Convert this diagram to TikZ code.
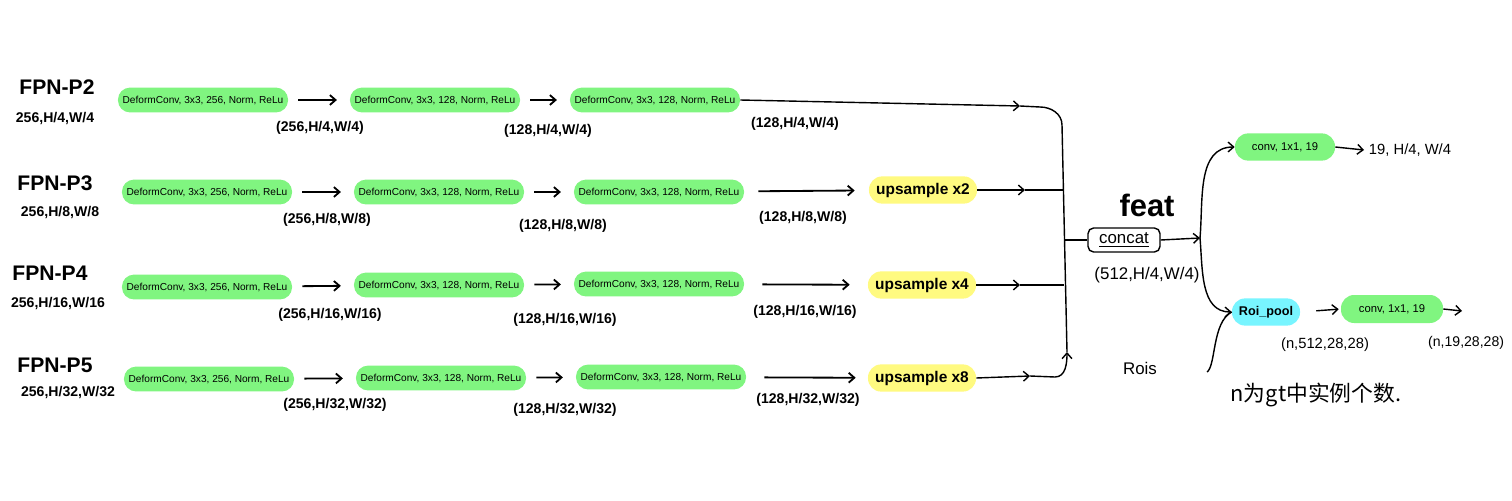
\documentclass[tikz,border=0pt]{standalone}
\usepackage{fontspec}
\setmainfont{Liberation Sans}
\newfontfamily\cjk{Noto Sans CJK SC}
\usetikzlibrary{arrows.meta}
\definecolor{convgreen}{RGB}{128,245,128}
\definecolor{upyellow}{RGB}{255,250,128}
\definecolor{poolcyan}{RGB}{120,245,255}

\begin{document}
\begin{tikzpicture}[x=0.025cm,y=-0.025cm,>={Straight Barb[length=4pt,width=7pt]},
  conv/.style={fill=convgreen,rounded corners=0.3cm,minimum width=4.25cm,minimum height=0.62cm,inner sep=1pt,font=\fontsize{7.2}{8}\selectfont},
  ups/.style={fill=upyellow,rounded corners=0.33cm,minimum width=2.7cm,minimum height=0.68cm,inner sep=1pt,font=\fontsize{11}{13}\selectfont\bfseries},
  head/.style={font=\fontsize{15}{18}\selectfont\bfseries},
  dims/.style={font=\fontsize{10}{12}\selectfont\bfseries},
  shp/.style={font=\fontsize{10.5}{12}\selectfont},
  flow/.style={line width=1pt},
  arr/.style={->,line width=1.3pt,shorten <=0.25cm,shorten >=0.32cm},
]
\fill [white] (0,0) rectangle (1512,500);
\useasboundingbox (0,0) rectangle (1512,500);
% P2
\node [head] (p2) at (57,87) {FPN-P2};
\node [dims] (p2s) at (55,118) {256,H/4,W/4};
\node [conv] (c2a) at (203,100) {DeformConv, 3x3, 256, Norm, ReLu};
\node [conv] (c2b) at (435,100) {DeformConv, 3x3, 128, Norm, ReLu};
\node [conv] (c2c) at (655,100) {DeformConv, 3x3, 128, Norm, ReLu};
\node [dims] (d2a) at (320,128) {(256,H/4,W/4)};
\node [dims] (d2b) at (548,131) {(128,H/4,W/4)};
\node [dims] (d2c) at (795,124) {(128,H/4,W/4)};
% P3
\node [head] (p3) at (55,183) {FPN-P3};
\node [dims] (p3s) at (60,212) {256,H/8,W/8};
\node [conv] (c3a) at (207,192) {DeformConv, 3x3, 256, Norm, ReLu};
\node [conv] (c3b) at (439,192) {DeformConv, 3x3, 128, Norm, ReLu};
\node [conv] (c3c) at (659,192) {DeformConv, 3x3, 128, Norm, ReLu};
\node [ups] (u3) at (923,190) {upsample x2};
\node [dims] (d3a) at (327,220) {(256,H/8,W/8)};
\node [dims] (d3b) at (563,226) {(128,H/8,W/8)};
\node [dims] (d3c) at (803,218) {(128,H/8,W/8)};
% P4
\node [head] (p4) at (50,273) {FPN-P4};
\node [dims] (p4s) at (58,303) {256,H/16,W/16};
\node [conv] (c4a) at (207,287) {DeformConv, 3x3, 256, Norm, ReLu};
\node [conv] (c4b) at (439,285) {DeformConv, 3x3, 128, Norm, ReLu};
\node [conv] (c4c) at (659,284) {DeformConv, 3x3, 128, Norm, ReLu};
\node [ups] (u4) at (922,285) {upsample x4};
\node [dims] (d4a) at (330,315) {(256,H/16,W/16)};
\node [dims] (d4b) at (565,320) {(128,H/16,W/16)};
\node [dims] (d4c) at (805,312) {(128,H/16,W/16)};
% P5
\node [head] (p5) at (55,365) {FPN-P5};
\node [dims] (p5s) at (68,392) {256,H/32,W/32};
\node [conv] (c5a) at (209,379) {DeformConv, 3x3, 256, Norm, ReLu};
\node [conv] (c5b) at (441,378) {DeformConv, 3x3, 128, Norm, ReLu};
\node [conv] (c5c) at (661,377) {DeformConv, 3x3, 128, Norm, ReLu};
\node [ups] (u5) at (922,378) {upsample x8};
\node [dims] (d5a) at (335,405) {(256,H/32,W/32)};
\node [dims] (d5b) at (565,410) {(128,H/32,W/32)};
\node [dims] (d5c) at (808,400) {(128,H/32,W/32)};
% head part
\node [draw,line width=1pt,rounded corners=4pt,minimum width=1.8cm,minimum height=0.6cm,font=\fontsize{12}{14}\selectfont] (cat) at (1124,240) {\underline{concat}};
\node [font=\fontsize{22}{26}\selectfont\bfseries] (ft) at (1147,205) {feat};
\node [font=\fontsize{12}{14}\selectfont] (catd) at (1147,275) {(512,H/4,W/4)};
\node [fill=convgreen,rounded corners=0.33cm,minimum width=2.5cm,minimum height=0.68cm,font=\fontsize{8}{10}\selectfont] (h1) at (1285,147) {conv, 1x1, 19};
\node [shp] (o1) at (1410,150) {19, H/4, W/4};
\node [fill=poolcyan,rounded corners=0.33cm,minimum width=1.7cm,minimum height=0.68cm,font=\fontsize{9}{11}\selectfont\bfseries] (roi) at (1266,312) {Roi\_pool};
\node [fill=convgreen,rounded corners=0.33cm,minimum width=2.55cm,minimum height=0.7cm,font=\fontsize{8}{10}\selectfont] (h2) at (1392,309) {conv, 1x1, 19};
\node [shp] (d7) at (1325,345) {(n,512,28,28)};
\node [shp,anchor=east,font=\fontsize{10}{12}\selectfont] (d8) at (1509,343) {(n,19,28,28)};
\node [shp,font=\fontsize{12}{14}\selectfont] (rois) at (1140,368) {Rois};
\node [font=\cjk\fontsize{15.5}{18}\selectfont] (note) at (1316,395) {n为gt中实例个数.};
\coordinate (k2) at (1020,106);
\coordinate (k3) at (1025,190);
\coordinate (k4) at (1020,285);
\coordinate (k5) at (1030,376);
\coordinate (bt) at (1062,125);
\coordinate (bb) at (1067,352);
\coordinate (j3) at (1063,190);
\coordinate (j4) at (1064,285);
\coordinate (j6) at (1064,240);
\coordinate (br) at (1200,238);
\coordinate (rs) at (1207,372);
\coordinate (o2) at (1462,311);
% connectors
\draw [arr] (c2a) -- (c2b);
\draw [arr] (c2b) -- (c2c);
\draw [arr] (c3a) -- (c3b);
\draw [arr] (c3b) -- (c3c);
\draw [arr] (c4a) -- (c4b);
\draw [arr] (c4b) -- (c4c);
\draw [arr] (c5a) -- (c5b);
\draw [arr] (c5b) -- (c5c);
\draw [arr,shorten <=0.35cm,shorten >=0.35cm] (c3c) -- (u3);
\draw [arr,shorten <=0.45cm,shorten >=0.45cm] (c4c) -- (u4);
\draw [arr,shorten <=0.45cm,shorten >=0.3cm] (c5c) -- (u5);
\draw [->,flow] (c2c.east) -- (k2);
\draw [flow] (k2) -- (1040,107) to[out=0,in=90] (bt) -- (bb);
\draw [->,flow] (u3.east) -- (k3);
\draw [flow] (k3) -- (j3);
\draw [->,flow] (u4.east) -- (k4);
\draw [flow] (k4) -- (j4);
\draw [->,flow] (u5.east) -- (k5);
\draw [->,flow] (k5) -- (1055,377) to[out=0,in=-90] (bb);
\draw [flow] (j6) -- (cat.west);
\draw [->,flow] (cat.east) -- (br);
\draw [->,flow] (br) to[out=85,in=180] (h1.west);
\draw [->,flow] (br) to[out=-85,in=180] (roi.west);
\draw [flow] (rs) .. controls (1216,366) and (1212,322) .. (roi.west);
\draw [->,flow] (h1.east) -- (o1.west);
\draw [->,flow,shorten <=0.4cm,shorten >=0.05cm] (roi.east) -- (h2.west);
\draw [->,flow] (h2.east) -- (o2);
\end{tikzpicture}
\end{document}
